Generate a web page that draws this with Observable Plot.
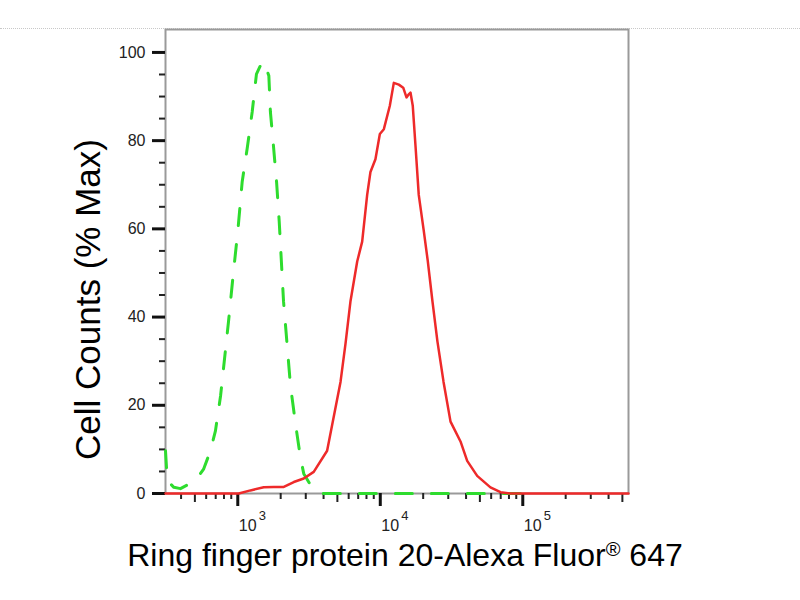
<!DOCTYPE html>
<html><head><meta charset="utf-8">
<script src="https://cdn.jsdelivr.net/npm/d3@7"></script>
<script src="https://cdn.jsdelivr.net/npm/@observablehq/plot@0.6"></script>
<style>
body{margin:0;background:#fff;}
#wrap{position:relative;width:800px;height:600px;}
#dots{position:absolute;left:0;top:28px;width:800px;border-top:1px dotted #c8c8c8;}
#chart{position:absolute;left:0;top:0;}
</style></head><body><div id="wrap"><div id="dots"></div><div id="chart"></div></div>
<script>
// Isotype control (green dashed): fluorescence intensity and % max
const greenX = [311, 320, 356, 396, 505, 577, 643, 697, 757, 861, 933, 1000, 1074, 1164, 1262, 1352, 1490, 1563, 1652, 1694, 1770, 1871, 1954, 2094, 2344, 2541, 2754, 2904, 3412, 3990, 120000];
const greenY = [9.7, 2.9, 1.4, 1.1, 2.9, 5.6, 9.7, 14.2, 22.1, 39, 50.3, 59.4, 70.7, 78.2, 86.5, 95.1, 98.0, 97.0, 94.7, 86.5, 79.7, 70.7, 61.6, 43.6, 24.4, 15.8, 8.1, 4.5, 0.7, 0, 0];
// Ring finger protein 20 stained (red solid)
const redX = [311, 1016, 1227, 1521, 1791, 2104, 2472, 2904, 3412, 4236, 5260, 5702, 6180, 6887, 7464, 8091, 8531, 9247, 9931, 10593, 11668, 12445, 13490, 14488, 15276, 15849, 16293, 16904, 17660, 18621, 20184, 21528, 23227, 25177, 27797, 31117, 36559, 40738, 47863, 59293, 69823, 82035, 552000];
const redY = [0, 0, 0.7, 1.4, 1.5, 1.5, 2.6, 3.4, 4.9, 9.7, 25.3, 34, 43.6, 52.6, 57.1, 67.7, 72.9, 75.8, 81.5, 82.6, 87.9, 93.1, 92.7, 92.0, 89.8, 90.5, 90.9, 87.9, 78.9, 67.7, 59.6, 52.8, 43.6, 34.5, 25.3, 16.3, 11.8, 7.4, 4.0, 1.4, 0.3, 0, 0];

const yMajor = [0, 20, 40, 60, 80, 100];
const yMinor = [5, 10, 15, 25, 30, 35, 45, 50, 55, 65, 70, 75, 85, 90, 95];
const xMajor = [1000, 10000, 100000];
const xMajorExp = ["3", "4", "5"];
const xMinor = [400, 600, 700, 800, 900, 2000, 3000, 4000, 6000, 7000, 8000, 9000, 20000, 30000, 40000, 60000, 70000, 80000, 90000, 200000, 300000, 400000];
const xMid = [500, 5000, 50000, 500000];
const xTitle = "Ring finger protein 20-Alexa Fluor® 647";
const yTitle = "Cell Counts (% Max)";

const green = greenX.map((x, i) => ({x, y: greenY[i]}));
const red = redX.map((x, i) => ({x, y: redY[i]}));
const narrow = "'Liberation Sans Narrow', 'Arial Narrow', 'Liberation Sans', sans-serif";
const sans = "'Liberation Sans', Arial, sans-serif";

const chart = Plot.plot({
  width: 800, height: 600,
  marginLeft: 165, marginRight: 172, marginTop: 29, marginBottom: 107,
  style: {background: "transparent", fontFamily: sans},
  x: {type: "log", domain: [311, 552000], axis: null},
  y: {domain: [0, 105.2], axis: null},
  marks: [
    Plot.frame({stroke: "#9a9a9a", strokeWidth: 2}),
    Plot.axisY({ticks: yMajor, tickSize: 13, tickPadding: 7, strokeWidth: 3, stroke: "#111", fontSize: 16, fontFamily: narrow, fill: "#222", label: null}),
    Plot.axisY({ticks: yMinor, tickSize: 6, strokeWidth: 2, stroke: "#222", tickFormat: () => "", label: null}),
    Plot.axisX({ticks: xMajor, tickSize: 13, strokeWidth: 3, stroke: "#111", tickFormat: () => "", label: null}),
    Plot.axisX({ticks: xMinor, tickSize: 6, strokeWidth: 2, stroke: "#222", tickFormat: () => "", label: null}),
    Plot.axisX({ticks: xMid, tickSize: 9, strokeWidth: 2, stroke: "#222", tickFormat: () => "", label: null}),
    Plot.text(xMajor, {x: d => d, frameAnchor: "bottom", lineAnchor: "middle", dy: 32, dx: 1, text: () => "10", textAnchor: "start", fontSize: 16, fontFamily: narrow, fill: "#222"}),
    Plot.text(xMajor, {x: d => d, frameAnchor: "bottom", lineAnchor: "middle", dy: 22, dx: 21, text: (d, i) => xMajorExp[i], textAnchor: "start", fontSize: 13, fontFamily: narrow, fill: "#222"}),
    Plot.line(green, {x: "x", y: "y", stroke: "#2edc2e", strokeWidth: 3, strokeDasharray: "17,19", curve: "linear"}),
    Plot.line(red, {x: "x", y: "y", stroke: "#ee2a2a", strokeWidth: 2.5, curve: "linear"}),
    Plot.text([yTitle], {frameAnchor: "left", textAnchor: "middle", lineAnchor: "middle", dx: -77, dy: 38, rotate: -90, fontSize: 35, fontFamily: sans, fill: "#000"}),
    Plot.text([xTitle], {frameAnchor: "bottom", textAnchor: "middle", lineAnchor: "middle", dx: 8, dy: 62, fontSize: 32, fontFamily: sans, fill: "#000"})
  ]
});
document.getElementById("chart").appendChild(chart);
// render the registered mark as superscript
chart.querySelectorAll("text").forEach(t => {
  if (t.textContent === xTitle) {
    const [a, b] = xTitle.split("®");
    t.textContent = "";
    const s1 = document.createElementNS("http://www.w3.org/2000/svg", "tspan"); s1.textContent = a;
    const s2 = document.createElementNS("http://www.w3.org/2000/svg", "tspan"); s2.textContent = "®";
    s2.setAttribute("font-size", "20"); s2.setAttribute("dy", "-10");
    const s3 = document.createElementNS("http://www.w3.org/2000/svg", "tspan"); s3.textContent = b;
    s3.setAttribute("dy", "10");
    t.append(s1, s2, s3);
  }
});
</script></body></html>
